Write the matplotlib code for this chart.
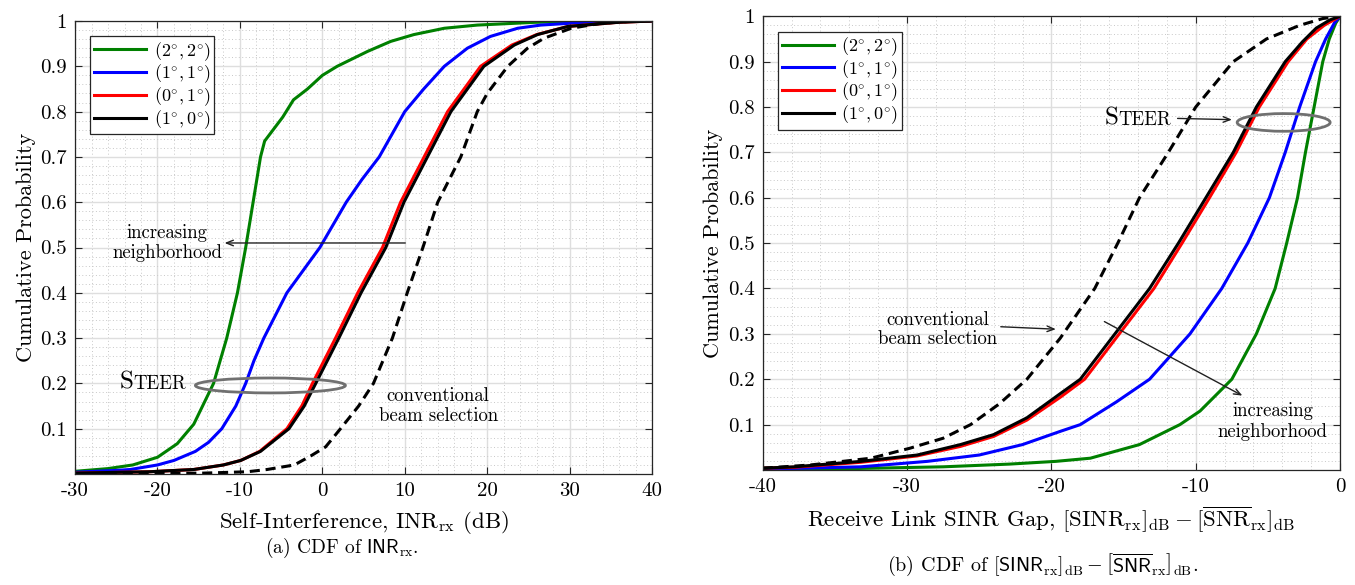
import matplotlib
matplotlib.use("Agg")
import matplotlib.pyplot as plt
from matplotlib.patches import Ellipse
from matplotlib.ticker import MultipleLocator

plt.rcParams['font.family'] = 'serif'
plt.rcParams['font.serif'] = ['cmr10', 'DejaVu Serif']
plt.rcParams['mathtext.fontset'] = 'cm'
plt.rcParams['axes.formatter.use_mathtext'] = True
plt.rcParams['axes.unicode_minus'] = False

# ---- (a) CDF of INR_rx : (x in dB, cumulative probability)
inr_green_x = [-30, -26, -23, -20, -17.6, -15.6, -13.2, -11.6, -10.3, -9.3, -8.4, -7.5, -7.0, -4.8, -3.5, -1.8, 0, 1.8, 5.5, 8.3, 11.1, 14.8, 18.8, 25.7, 32, 40]
inr_green_p = [0.006, 0.012, 0.02, 0.037, 0.067, 0.11, 0.2, 0.3, 0.4, 0.5, 0.6, 0.7, 0.735, 0.788, 0.826, 0.85, 0.88, 0.9, 0.933, 0.955, 0.97, 0.984, 0.991, 0.997, 1.0, 1.0]

inr_blue_x = [-30, -25, -23.3, -20, -18, -15.4, -13.8, -12.2, -10.5, -9.3, -8.3, -7.1, -4.3, -0.3, 2.9, 4.8, 6.9, 10.0, 12.3, 14.8, 17.6, 20.4, 23.7, 26.5, 31.8, 38, 40]
inr_blue_p = [0.004, 0.008, 0.01, 0.02, 0.03, 0.05, 0.07, 0.1, 0.15, 0.2, 0.25, 0.3, 0.4, 0.5, 0.6, 0.65, 0.7, 0.8, 0.85, 0.9, 0.94, 0.966, 0.984, 0.991, 0.997, 1.0, 1.0]

inr_red_x = [-30, -21, -15.6, -12, -9.9, -7.6, -4.3, -2.5, -1.2, 1.6, 4.3, 7.3, 9.5, 12.35, 15.2, 19.2, 23.0, 26.0, 29.8, 35.8, 40]
inr_red_p = [0.002, 0.005, 0.01, 0.02, 0.03, 0.05, 0.1, 0.15, 0.2, 0.3, 0.4, 0.5, 0.6, 0.7, 0.8, 0.9, 0.947, 0.97, 0.988, 0.997, 1.0]

inr_black_x = [-30, -21, -15.6, -12, -9.9, -7.5, -4.05, -2.2, -0.8, 2.0, 4.7, 7.7, 9.9, 12.75, 15.6, 19.6, 23.3, 26.1, 29.8, 35.8, 40]
inr_black_p = [0.002, 0.005, 0.01, 0.02, 0.03, 0.05, 0.1, 0.15, 0.2, 0.3, 0.4, 0.5, 0.6, 0.7, 0.8, 0.9, 0.947, 0.97, 0.988, 0.997, 1.0]

inr_conv_x = [-30, -14.4, -9.1, -6.7, -3.4, -1.4, 0.4, 2.2, 4.4, 6.2, 8.5, 10.3, 12.2, 14.0, 16.8, 18.8, 20.0, 22.5, 24.9, 26.9, 30.2, 33.8, 38, 40]
inr_conv_p = [0.0, 0.002, 0.005, 0.01, 0.02, 0.04, 0.06, 0.1, 0.15, 0.2, 0.3, 0.4, 0.5, 0.6, 0.7, 0.8, 0.84, 0.9, 0.94, 0.962, 0.984, 0.995, 1.0, 1.0]

# ---- (b) CDF of SINR gap (dB)
gap_green_x = [-40, -35.5, -27.5, -22.9, -19.7, -17.3, -13.9, -11.1, -9.7, -7.5, -5.8, -4.5, -3.7, -2.95, -2.4, -1.8, -1.2, -0.75, -0.3, 0]
gap_green_p = [0.001, 0.002, 0.007, 0.013, 0.019, 0.026, 0.056, 0.1, 0.13, 0.2, 0.3, 0.4, 0.5, 0.6, 0.7, 0.8, 0.9, 0.95, 0.985, 1.0]

gap_blue_x = [-40, -33.2, -28.6, -25, -22, -19.4, -18.0, -15.5, -13.2, -10.4, -8.2, -6.4, -4.9, -3.8, -2.8, -1.7, -1.0, -0.4, 0]
gap_blue_p = [0.002, 0.007, 0.019, 0.033, 0.056, 0.085, 0.1, 0.15, 0.2, 0.3, 0.4, 0.5, 0.6, 0.7, 0.8, 0.9, 0.95, 0.985, 1.0]

gap_red_x = [-40, -37.8, -33.2, -29.3, -26.3, -24.0, -21.7, -19.4, -17.7, -15.3, -12.9, -10.95, -9.05, -7.2, -5.6, -3.6, -2.3, -1.1, 0]
gap_red_p = [0.004, 0.006, 0.017, 0.031, 0.052, 0.074, 0.11, 0.16, 0.2, 0.3, 0.4, 0.5, 0.6, 0.7, 0.8, 0.9, 0.95, 0.98, 1.0]

gap_black_x = [-40, -37.8, -33.2, -29.3, -26.3, -24.0, -21.7, -19.4, -18.0, -15.6, -13.2, -11.2, -9.3, -7.4, -5.8, -3.8, -2.6, -1.65, -0.7, 0]
gap_black_p = [0.004, 0.007, 0.019, 0.033, 0.056, 0.078, 0.115, 0.168, 0.2, 0.3, 0.4, 0.5, 0.6, 0.7, 0.8, 0.9, 0.944, 0.974, 0.992, 1.0]

gap_conv_x = [-40, -36.7, -32.5, -29.8, -27.5, -25.6, -23.6, -21.7, -19.4, -17.0, -15.4, -13.9, -11.9, -10.0, -7.4, -5.1, -2.8, -1.2, 0]
gap_conv_p = [0.004, 0.011, 0.026, 0.048, 0.07, 0.1, 0.146, 0.2, 0.29, 0.4, 0.5, 0.6, 0.7, 0.8, 0.9, 0.95, 0.98, 0.995, 1.0]

labels = [r'$(2^{\circ}, 2^{\circ})$', r'$(1^{\circ}, 1^{\circ})$', r'$(0^{\circ}, 1^{\circ})$', r'$(1^{\circ}, 0^{\circ})$']
colors = ['#008000', '#0000ff', '#ff0000', '#000000']

ytick_vals = [0.1, 0.2, 0.3, 0.4, 0.5, 0.6, 0.7, 0.8, 0.9, 1.0]
ytick_labels = ['0.1', '0.2', '0.3', '0.4', '0.5', '0.6', '0.7', '0.8', '0.9', '1']
xtick_a = [-30, -20, -10, 0, 10, 20, 30, 40]
xtick_b = [-40, -30, -20, -10, 0]

fig = plt.figure(figsize=(13.55, 5.85), dpi=100)
ax1 = fig.add_axes([0.0554, 0.1897, 0.4258, 0.7744])
ax2 = fig.add_axes([0.5629, 0.1966, 0.4261, 0.7756])

arrow_style = dict(arrowstyle='->,head_length=0.5,head_width=0.2', color='#202020', lw=1.0)
dash = (0, (3.3, 1.9))


def style_axes(ax, xticks):
    ax.set_ylim(0, 1)
    ax.set_xlim(xticks[0], xticks[-1])
    ax.set_yticks(ytick_vals)
    ax.set_yticklabels(ytick_labels)
    ax.set_xticks(xticks)
    ax.set_xticklabels([str(t) for t in xticks])
    ax.xaxis.set_minor_locator(MultipleLocator(2))
    ax.yaxis.set_minor_locator(MultipleLocator(0.02))
    ax.grid(which='major', color='#dedede', lw=1.0, ls='-')
    ax.grid(which='minor', color='#c8c8c8', lw=0.7, ls=(0, (1, 2.5)))
    ax.set_axisbelow(True)
    ax.tick_params(which='major', direction='in', top=True, right=True,
                   length=5, width=0.8, color='#262626', labelsize=15, pad=6)
    ax.tick_params(which='minor', length=0)
    for s in ax.spines.values():
        s.set_color('#262626')
        s.set_linewidth(0.9)
    ax.set_ylabel('Cumulative Probability', fontsize=16, labelpad=3)


def add_legend(ax):
    leg = ax.legend(loc='upper left', fontsize=13, handlelength=2.9, borderaxespad=0.85,
                    fancybox=False, framealpha=1, edgecolor='#262626', labelspacing=0.0,
                    borderpad=0.2, handletextpad=0.4)
    leg.get_frame().set_linewidth(0.9)


# (a)
ax1.plot(inr_green_x, inr_green_p, color=colors[0], lw=2.2, label=labels[0])
ax1.plot(inr_blue_x, inr_blue_p, color=colors[1], lw=2.2, label=labels[1])
ax1.plot(inr_red_x, inr_red_p, color=colors[2], lw=2.2, label=labels[2])
ax1.plot(inr_black_x, inr_black_p, color=colors[3], lw=2.2, label=labels[3])
ax1.plot(inr_conv_x, inr_conv_p, color='k', lw=2.2, ls=dash)
style_axes(ax1, xtick_a)
ax1.set_xlabel(r'Self-Interference, $\mathrm{INR}_{\mathrm{rx}}$ (dB)', fontsize=16.5, labelpad=6)

ax1.annotate('', xy=(-12.2, 0.51), xytext=(10.4, 0.51), arrowprops=arrow_style)
ax1.text(-18.8, 0.51, 'increasing\nneighborhood', ha='center', va='center', fontsize=13.5, linespacing=1.2)
ax1.text(14.05, 0.15, 'conventional\nbeam selection', ha='center', va='center', fontsize=13.5, linespacing=1.1)
ax1.text(-22.96, 0.188, 'S', ha='right', va='baseline', fontsize=18)
ax1.text(-22.96, 0.188, 'TEER', ha='left', va='baseline', fontsize=13.5)
ax1.add_patch(Ellipse((-6.3, 0.1955), 18.2, 0.033, fill=False, ec='#707070', lw=2.0, zorder=5))
add_legend(ax1)

# (b)
ax2.plot(gap_green_x, gap_green_p, color=colors[0], lw=2.2, label=labels[0])
ax2.plot(gap_blue_x, gap_blue_p, color=colors[1], lw=2.2, label=labels[1])
ax2.plot(gap_red_x, gap_red_p, color=colors[2], lw=2.2, label=labels[2])
ax2.plot(gap_black_x, gap_black_p, color=colors[3], lw=2.2, label=labels[3])
ax2.plot(gap_conv_x, gap_conv_p, color='k', lw=2.2, ls=dash)
style_axes(ax2, xtick_b)
ax2.set_xlabel(r'Receive Link SINR Gap, $[\mathrm{SINR}_{\mathrm{rx}}]_{\mathrm{dB}} - [\overline{\mathrm{SNR}}_{\mathrm{rx}}]_{\mathrm{dB}}$',
               fontsize=16.5, labelpad=6)

ax2.annotate('', xy=(-7.3, 0.772), xytext=(-11.45, 0.775), arrowprops=arrow_style)
ax2.text(-15.36, 0.761, 'S', ha='right', va='baseline', fontsize=18)
ax2.text(-15.36, 0.761, 'TEER', ha='left', va='baseline', fontsize=13.5)
ax2.add_patch(Ellipse((-3.91, 0.766), 6.44, 0.039, fill=False, ec='#707070', lw=2.0, zorder=5))

ax2.annotate('', xy=(-19.5, 0.31), xytext=(-23.7, 0.316), arrowprops=arrow_style)
ax2.text(-27.9, 0.31, 'conventional\nbeam selection', ha='center', va='center', fontsize=13.5, linespacing=1.1)
ax2.annotate('', xy=(-6.6, 0.161), xytext=(-16.5, 0.33), arrowprops=arrow_style)
ax2.text(-4.67, 0.106, 'increasing\nneighborhood', ha='center', va='center', fontsize=13.5, linespacing=1.2)
add_legend(ax2)

fig.text(342 / 1355, 1 - 548 / 585, r'(a) CDF of $\mathsf{INR}_{\mathrm{rx}}$.', ha='center', va='center', fontsize=14)
fig.text(1043 / 1355, 1 - 565 / 585,
         r'(b) CDF of $[\mathsf{SINR}_{\mathrm{rx}}]_{\mathrm{dB}} - \left[\overline{\mathsf{SNR}}_{\mathrm{rx}}\right]_{\mathrm{dB}}$.',
         ha='center', va='center', fontsize=14.5)

fig.savefig('out.png', dpi=100)
